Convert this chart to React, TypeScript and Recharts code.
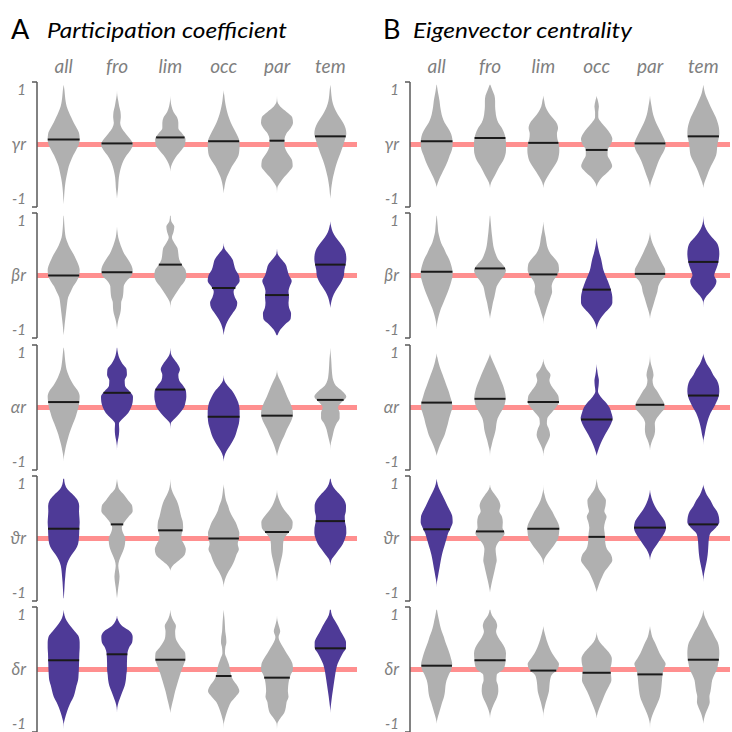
import React from 'react';
import { ComposedChart, Area, XAxis, YAxis, ReferenceLine } from 'recharts';

// ---------- data ----------
// density levels (value axis), from top to bottom
const LEVELS = [1.1, 1.0, 0.9, 0.8, 0.7, 0.6, 0.5, 0.4, 0.3, 0.2, 0.1, 0, -0.1, -0.2, -0.3, -0.4, -0.5, -0.6, -0.7, -0.8, -0.9, -1.0, -1.1];
const CATEGORIES = ['all', 'fro', 'lim', 'occ', 'par', 'tem'];
const ROW_LABELS = ['γr', 'βr', 'αr', 'ϑr', 'δr'];
const Y_TICKS = [-1.15, -1, 0, 1, 1.15];
const X_TICKS = [0.5, 1.5, 2.5, 3.5, 4.5, 5.5];
const PANEL_TITLES = ['Participation coefficient', 'Eigenvector centrality'];
const PANEL_LETTERS = ['A', 'B'];

// relative violin widths per level (order: all, fro, lim, occ, par, tem)
const PC_GAMMA = [
  [0, .05, .08, .12, .19, .32, .47, .63, .82, .97, 1, .95, .78, .6, .45, .32, .24, .17, .11, .07, .04, .02, 0],
  [0, 0, .02, .08, .14, .22, .24, .2, .3, .55, .82, 1, .85, .6, .4, .27, .18, .12, .09, .07, .03, 0, 0],
  [0, 0, 0, .02, .08, .2, .42, .5, .5, .75, .95, .92, .7, .42, .2, .05, 0, 0, 0, 0, 0, 0, 0],
  [0, 0, .04, .08, .14, .22, .32, .45, .62, .8, .95, 1, .98, .93, .75, .52, .35, .2, .1, .04, 0, 0, 0],
  [0, 0, 0, .02, .2, .6, .95, 1, .85, .58, .47, .46, .55, .75, .95, .98, .75, .45, .2, .02, 0, 0, 0],
  [0, .04, .07, .12, .22, .38, .58, .8, .95, 1, .92, .82, .7, .58, .45, .34, .25, .17, .11, .06, .03, 0, 0],
];
const PC_BETA = [
  [.01, .03, .05, .08, .13, .25, .4, .6, .77, .92, 1, .97, .82, .6, .44, .28, .22, .18, .14, .1, .06, .03, 0],
  [0, 0, 0, .03, .08, .18, .3, .45, .68, .88, .98, .92, .6, .42, .4, .36, .26, .25, .2, .1, .03, 0, 0],
  [.02, .06, .25, .2, .1, .25, .45, .5, .55, .72, .95, 1, .9, .65, .42, .2, .03, 0, 0, 0, 0, 0, 0],
  [0, 0, 0, 0, 0, 0, .05, .3, .55, .65, .75, .95, 1, .78, .62, .7, .85, .78, .55, .32, .15, .05, 0],
  [0, 0, 0, 0, 0, 0, 0, .04, .28, .55, .65, .75, .92, .8, .72, .75, .72, .76, .88, .85, .5, .2, .03],
  [0, 0, .05, .15, .35, .62, .85, .97, 1, .95, .88, .85, .72, .52, .3, .14, .05, 0, 0, 0, 0, 0, 0],
];
const PC_ALPHA = [
  [.01, .05, .08, .12, .18, .3, .45, .65, .9, 1, .97, .92, .82, .72, .58, .45, .33, .24, .15, .08, .02, 0, 0],
  [.01, .06, .16, .35, .6, .62, .48, .5, .78, 1, .98, .88, .7, .38, .12, .14, .12, .06, .01, 0, 0, 0, 0],
  [0, .03, .2, .45, .6, .5, .55, .8, .98, 1, .95, .85, .6, .3, .02, 0, 0, 0, 0, 0, 0, 0, 0],
  [0, 0, 0, 0, 0, 0, .04, .25, .55, .75, .9, .98, 1, .99, .95, .85, .75, .6, .4, .18, .04, 0, 0],
  [0, 0, 0, 0, 0, .05, .2, .36, .5, .64, .8, .93, 1, .95, .8, .62, .48, .32, .18, .07, 0, 0, 0],
  [0, .02, .05, .07, .09, .12, .18, .35, .75, 1, .72, .48, .58, .58, .38, .24, .16, .08, .01, 0, 0, 0, 0],
];
const PC_THETA = [
  [.03, .08, .25, .6, .88, .97, .96, .98, 1, .98, .97, .95, .9, .75, .5, .3, .18, .13, .1, .07, .05, .03, .01],
  [0, .05, .15, .45, .7, .95, .98, .72, .45, .3, .38, .52, .5, .42, .28, .14, .08, .12, .16, .13, .08, .04, 0],
  [0, .02, .08, .22, .4, .52, .6, .68, .78, .8, .72, .68, .85, .97, .9, .55, .15, 0, 0, 0, 0, 0, 0],
  [0, 0, .04, .08, .15, .28, .38, .55, .75, .88, .98, .95, .88, .95, .8, .68, .52, .32, .15, .04, 0, 0, 0],
  [0, 0, 0, .04, .15, .3, .52, .8, .98, .95, .7, .45, .38, .37, .33, .25, .17, .1, .04, 0, 0, 0, 0],
  [.02, .1, .3, .62, .88, .98, .97, .9, .92, .99, 1, .92, .78, .55, .3, .06, 0, 0, 0, 0, 0, 0, 0],
];
const PC_DELTA = [
  [0, .05, .18, .42, .7, .95, 1, 1, .98, .97, .96, .95, .93, .9, .8, .72, .62, .45, .3, .18, .08, .01, 0],
  [0, 0, .08, .32, .82, .98, .95, .75, .65, .63, .62, .62, .58, .55, .48, .35, .22, .1, .02, 0, 0, 0, 0],
  [0, .05, .18, .35, .3, .32, .45, .68, .93, .95, .85, .72, .6, .5, .4, .3, .22, .14, .06, 0, 0, 0, 0],
  [0, .03, .06, .08, .1, .15, .17, .1, .08, .2, .32, .4, .46, .6, .85, .98, .75, .46, .3, .18, .08, .01, 0],
  [0, 0, .03, .12, .2, .1, .2, .4, .6, .82, .97, 1, .85, .75, .7, .68, .72, .6, .55, .45, .2, .02, 0],
  [.03, .1, .28, .48, .65, .85, .98, .98, .78, .6, .45, .36, .3, .25, .2, .15, .1, .06, .02, 0, 0, 0, 0],
];
const PC_MEDIANS = [
  [.09, .02, .13, .06, .07, .15],
  [0, .06, .2, -.23, -.36, .2],
  [.1, .27, .33, -.17, -.15, .14],
  [.18, .26, .15, 0, .12, .32],
  [.17, .28, .18, -.12, -.15, .39],
];
const PC_SIG = [
  [0, 0, 0, 0, 0, 0],
  [0, 0, 0, 1, 1, 1],
  [0, 1, 1, 1, 0, 0],
  [1, 0, 0, 0, 0, 1],
  [1, 1, 0, 0, 0, 1],
];

const EC_GAMMA = [
  [.01, .06, .12, .18, .22, .28, .36, .5, .72, .9, .98, 1, .95, .82, .7, .55, .38, .22, .08, 0, 0, 0, 0],
  [.02, .15, .28, .32, .32, .35, .4, .52, .75, .9, .98, 1, 1, .95, .82, .6, .42, .25, .07, 0, 0, 0, 0],
  [0, 0, 0, .06, .13, .3, .55, .82, .92, .85, .88, .97, 1, .97, .88, .68, .45, .25, .07, 0, 0, 0, 0],
  [0, 0, 0, .08, .14, .1, .1, .3, .6, .85, .98, .88, .68, .68, .85, .97, .72, .35, .1, 0, 0, 0, 0],
  [0, 0, 0, .04, .1, .16, .25, .38, .55, .72, .88, .98, .9, .72, .55, .42, .3, .18, .06, 0, 0, 0, 0],
  [0, .06, .15, .3, .45, .62, .78, .9, .98, 1, .95, .88, .85, .8, .65, .47, .32, .2, .07, 0, 0, 0, 0],
];
const EC_BETA = [
  [.01, .04, .07, .1, .18, .28, .45, .6, .78, .9, .98, 1, .92, .82, .7, .56, .42, .28, .17, .08, .02, 0, 0],
  [.01, .04, .07, .1, .14, .18, .24, .35, .5, .8, 1, .88, .62, .42, .34, .27, .18, .12, .05, 0, 0, 0, 0],
  [0, 0, .03, .08, .15, .2, .28, .45, .75, .95, .98, .85, .62, .52, .55, .45, .33, .22, .12, .02, 0, 0, 0],
  [0, 0, 0, 0, 0, .04, .1, .18, .28, .35, .42, .55, .7, .82, .92, .98, .98, .8, .48, .22, .06, 0, 0],
  [0, 0, 0, 0, .05, .15, .3, .45, .62, .8, .95, .95, .68, .52, .46, .35, .25, .15, .05, 0, 0, 0, 0],
  [0, .02, .1, .28, .55, .85, .97, 1, .97, .9, .78, .68, .82, .72, .45, .15, .01, 0, 0, 0, 0, 0, 0],
];
const EC_ALPHA = [
  [0, 0, .06, .14, .25, .38, .5, .62, .75, .85, .95, .98, .88, .78, .7, .6, .5, .35, .2, .08, 0, 0, 0],
  [0, 0, .1, .25, .4, .55, .68, .82, .92, .98, .95, .85, .65, .48, .4, .36, .28, .18, .1, .02, 0, 0, 0],
  [0, 0, 0, .06, .22, .45, .38, .5, .75, .95, .98, .78, .5, .25, .22, .35, .42, .32, .15, .03, 0, 0, 0],
  [0, 0, 0, 0, .03, .08, .14, .12, .08, .25, .55, .8, .92, 1, .9, .72, .52, .35, .2, .08, 0, 0, 0],
  [0, 0, .01, .06, .16, .22, .16, .22, .45, .65, .85, .93, .68, .42, .3, .32, .28, .15, .04, 0, 0, 0, 0],
  [0, 0, .08, .22, .45, .62, .85, .97, 1, .95, .82, .65, .45, .32, .22, .14, .08, .01, 0, 0, 0, 0, 0],
];
const EC_THETA = [
  [0, .06, .18, .35, .52, .68, .85, .98, 1, .88, .72, .62, .52, .42, .33, .26, .2, .14, .08, .02, 0, 0, 0],
  [0, 0, .08, .32, .55, .65, .58, .75, .8, .78, .92, .72, .45, .35, .38, .42, .35, .28, .2, .12, .05, 0, 0],
  [0, 0, .01, .08, .18, .35, .55, .72, .9, 1, .98, .92, .72, .48, .22, .04, 0, 0, 0, 0, 0, 0, 0],
  [0, .05, .15, .38, .58, .55, .48, .62, .52, .46, .5, .52, .55, .65, .9, .98, .78, .52, .35, .2, .08, 0, 0],
  [0, 0, 0, .05, .15, .3, .5, .75, .95, 1, .9, .68, .45, .22, .06, 0, 0, 0, 0, 0, 0, 0, 0],
  [0, 0, .08, .22, .45, .62, .85, .97, 1, .78, .45, .35, .32, .3, .27, .22, .15, .08, .02, 0, 0, 0, 0],
];
const EC_DELTA = [
  [.02, .08, .15, .22, .32, .45, .55, .68, .8, .9, .97, .92, .75, .62, .55, .52, .46, .35, .25, .15, .05, 0, 0],
  [.02, .12, .35, .45, .38, .5, .72, .92, 1, .98, .95, .82, .42, .4, .5, .52, .45, .3, .15, .04, 0, 0, 0],
  [0, 0, 0, 0, .06, .15, .25, .38, .55, .78, .98, .88, .52, .42, .38, .35, .26, .16, .08, .01, 0, 0, 0],
  [0, 0, 0, 0, 0, .05, .2, .5, .8, .95, .92, .85, .9, .92, .78, .6, .45, .32, .18, .06, 0, 0, 0],
  [0, 0, 0, 0, .06, .14, .3, .45, .6, .8, .98, .85, .78, .75, .72, .68, .62, .5, .35, .2, .08, .01, 0],
  [0, .06, .2, .35, .55, .72, .9, .98, 1, .98, .92, .85, .68, .55, .5, .45, .38, .4, .3, .15, .05, 0, 0],
];
const EC_MEDIANS = [
  [.06, .12, .03, -.1, .02, .15],
  [.07, .13, .02, -.26, .03, .25],
  [.09, .16, .1, -.22, .05, .22],
  [.17, .13, .18, .03, .2, .26],
  [.07, .17, -.02, -.06, -.09, .18],
];
const EC_SIG = [
  [0, 0, 0, 0, 0, 0],
  [0, 0, 0, 1, 0, 1],
  [0, 0, 0, 1, 0, 1],
  [1, 0, 0, 0, 1, 1],
  [0, 0, 0, 0, 0, 0],
];

const PANELS = [
  { rows: [PC_GAMMA, PC_BETA, PC_ALPHA, PC_THETA, PC_DELTA], medians: PC_MEDIANS, sig: PC_SIG },
  { rows: [EC_GAMMA, EC_BETA, EC_ALPHA, EC_THETA, EC_DELTA], medians: EC_MEDIANS, sig: EC_SIG },
];

// ---------- style / layout ----------
const FONT = "Lato, 'Open Sans', 'Noto Sans', sans-serif";
const GRAY = '#b0b0b0';
const PURPLE = '#4e3a97';
const PINK = '#ff8f8f';
const AXIS = '#595959';
const LABEL = '#7f7f7f';
const HALF = 0.3; // max half-width of a violin, in slot units
const PANEL_LEFT = [0, 373];
const Y_AXIS_W = 37;
const CHART_W = 357;
const PLOT_H = 125;
const ROW_TOP0 = 82;
const ROW_STEP = 131.25;
const TOP_AXIS_H = 30;
const TITLE_X = [47, 413];
const TITLE_LEN = [240, 219];
const LETTER_X = [11, 383];

function buildRowData(widths: number[][]) {
  return LEVELS.map((y, k) => {
    const row: Record<string, any> = { y };
    widths.forEach((w, i) => {
      const c = i + 0.5;
      row['v' + i] = [c - w[k] * HALF, c + w[k] * HALF];
    });
    return row;
  }).reverse();
}

function widthAt(w: number[], m: number) {
  for (let k = 0; k < LEVELS.length - 1; k++) {
    const a = LEVELS[k];
    const b = LEVELS[k + 1];
    if (m <= a && m >= b) {
      const t = (a - m) / (a - b);
      return w[k] + (w[k + 1] - w[k]) * t;
    }
  }
  return 0;
}

const YTick = (props: any) => {
  const { x, y, payload, rowLabel } = props;
  const v = payload.value;
  if (Math.abs(Math.abs(v) - 1.15) < 1e-6) {
    return <line x1={x - 5} x2={x} y1={y} y2={y} stroke={AXIS} strokeWidth={1.5} />;
  }
  const text = v === 0 ? rowLabel : String(v);
  return (
    <text x={x - 11} y={y} dy={5} textAnchor="end" fill={LABEL} fontSize={v === 0 ? 17 : 15}
      fontStyle="italic" fontFamily={FONT}>{text}</text>
  );
};

function RowChart({ panel, r, layer }: { panel: number; r: number; layer: 'back' | 'front' }) {
  const P = PANELS[panel];
  const widths = P.rows[r];
  const data = buildRowData(widths);
  const front = layer === 'front';
  const showTop = r === 0 && front;
  const top = ROW_TOP0 + r * ROW_STEP - 2 - (showTop ? TOP_AXIS_H : 0);
  const height = PLOT_H + 4 + (showTop ? TOP_AXIS_H : 0);
  return (
    <div style={{ position: 'absolute', left: PANEL_LEFT[panel], top }}>
      <ComposedChart width={CHART_W} height={height} data={data} layout="vertical"
        margin={{ top: 2, right: 0, bottom: 2, left: 0 }}>
        <XAxis type="number" domain={[0, 6]} allowDataOverflow hide={!showTop} orientation="top"
          height={TOP_AXIS_H} ticks={X_TICKS} interval={0} axisLine={false} tickLine={false}
          tickSize={0} tickMargin={9}
          tickFormatter={(v: number) => CATEGORIES[Math.floor(v)]}
          tick={{ fill: LABEL, fontSize: 19, fontStyle: 'italic', fontFamily: FONT }} />
        <YAxis type="number" dataKey="y" domain={[-1.15, 1.15]} reversed allowDataOverflow width={Y_AXIS_W}
          ticks={Y_TICKS} interval={0} tickLine={false} tickSize={0} tickMargin={0}
          axisLine={front ? { stroke: AXIS, strokeWidth: 1.5 } : false}
          tick={front ? (p: any) => <YTick {...p} rowLabel={ROW_LABELS[r]} /> : false} />
        {!front && <ReferenceLine y={0} stroke={PINK} strokeWidth={5} />}
        {front && CATEGORIES.map((c, i) => (
          <Area key={c} dataKey={'v' + i} type="monotone" stroke="none"
            fill={P.sig[r][i] ? PURPLE : GRAY} fillOpacity={1} isAnimationActive={false}
            dot={false} activeDot={false} />
        ))}
        {front && CATEGORIES.map((c, i) => {
          const m = P.medians[r][i];
          const hw = widthAt(widths[i], m) * HALF;
          return (
            <ReferenceLine key={'m' + c} ifOverflow="visible" stroke="#1a1a1a" strokeWidth={2}
              segment={[{ x: i + 0.5 - hw, y: m }, { x: i + 0.5 + hw, y: m }]} />
          );
        })}
      </ComposedChart>
    </div>
  );
}

export default function App() {
  const rows = [0, 1, 2, 3, 4];
  return (
    <div style={{ position: 'absolute', left: 0, top: 0, width: 732, height: 732, overflow: 'hidden', background: '#fff' }}>
      <svg width={732} height={50} style={{ position: 'absolute', left: 0, top: 0 }}>
        {PANEL_LETTERS.map((L, p) => (
          <g key={L}>
            <text x={LETTER_X[p]} y={39} fontSize={27} fontFamily={FONT} fill="#000">{L}</text>
            <text x={TITLE_X[p]} y={38} fontSize={22} fontStyle="italic" fontFamily={FONT} fill="#000"
              textLength={TITLE_LEN[p]} lengthAdjust="spacingAndGlyphs">{PANEL_TITLES[p]}</text>
          </g>
        ))}
      </svg>
      {[0, 1].map((p) => rows.map((r) => <RowChart key={'b' + p + '-' + r} panel={p} r={r} layer="back" />))}
      {[0, 1].map((p) => rows.map((r) => <RowChart key={'f' + p + '-' + r} panel={p} r={r} layer="front" />))}
    </div>
  );
}
